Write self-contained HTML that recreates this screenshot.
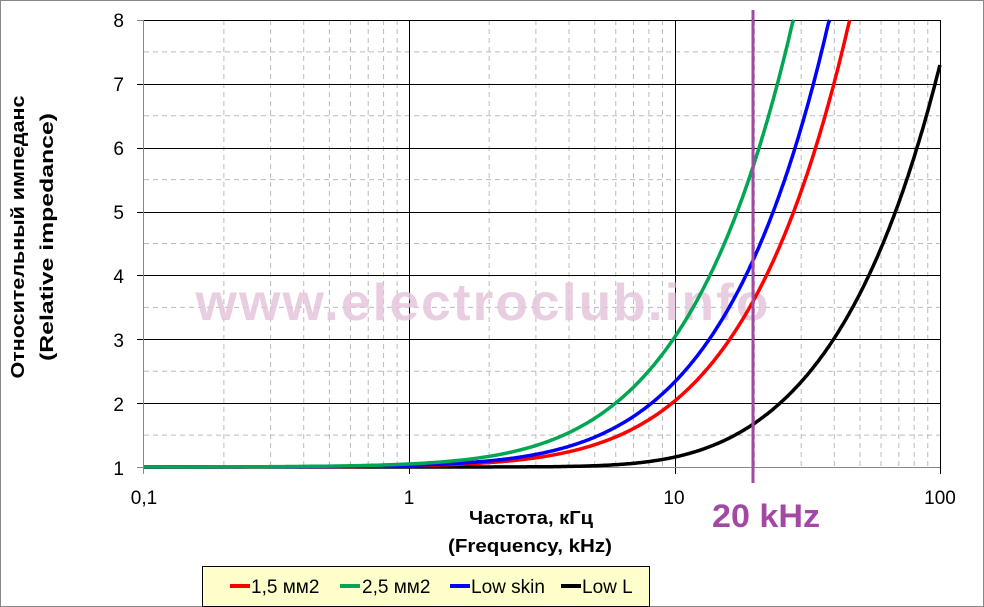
<!DOCTYPE html>
<html><head><meta charset="utf-8"><style>
body{margin:0;background:#fff}
svg{display:block}
text{font-family:"Liberation Sans","DejaVu Sans",sans-serif}
</style></head><body>
<svg id="s" width="984" height="607" viewBox="0 0 984 607" xmlns="http://www.w3.org/2000/svg">
<rect x="0.5" y="0.5" width="983" height="606" fill="#fff" stroke="#888"/>
<g id="grid"></g>
<text x="483" y="320" text-anchor="middle" font-size="52" font-weight="bold" fill="#e6c6dc" opacity="0.85" letter-spacing="2" textLength="575" lengthAdjust="spacingAndGlyphs">www.electroclub.info</text>
<g id="curves"></g>
<line x1="753" y1="10" x2="753" y2="483" stroke="#a349a4" stroke-width="3"/>
<text x="766" y="527" text-anchor="middle" font-size="32" font-weight="bold" fill="#a349a4" textLength="108" lengthAdjust="spacingAndGlyphs">20 kHz</text>
<g font-size="19" fill="#000" text-anchor="end">
<text x="124" y="27">8</text><text x="124" y="91">7</text><text x="124" y="155">6</text><text x="124" y="219">5</text><text x="124" y="283">4</text><text x="124" y="347">3</text><text x="124" y="411">2</text><text x="124" y="475">1</text>
</g>
<g font-size="19" fill="#000" text-anchor="middle">
<text x="144" y="504">0,1</text><text x="409" y="504">1</text><text x="674" y="504">10</text><text x="940" y="504">100</text>
</g>
<text x="531" y="524" text-anchor="middle" font-size="18" font-weight="bold" textLength="124" lengthAdjust="spacingAndGlyphs">Частота, кГц</text>
<text x="530" y="552" text-anchor="middle" font-size="18" font-weight="bold" textLength="164" lengthAdjust="spacingAndGlyphs">(Frequency, kHz)</text>
<g transform="translate(35,237) rotate(-90)" font-size="18" font-weight="bold" text-anchor="middle">
<text x="0" y="-11" textLength="283" lengthAdjust="spacingAndGlyphs">Относительный импеданс</text>
<text x="0" y="18" textLength="248" lengthAdjust="spacingAndGlyphs">(Relative impedance)</text>
</g>
<rect x="202.5" y="566.5" width="447" height="40" fill="#ffffcc" stroke="#000"/>
<g stroke-width="4">
<line x1="230" y1="586" x2="250" y2="586" stroke="#ff0000"/>
<line x1="340" y1="586" x2="360" y2="586" stroke="#00a651"/>
<line x1="450" y1="586" x2="470" y2="586" stroke="#0000ff"/>
<line x1="561" y1="586" x2="581" y2="586" stroke="#000"/>
</g>
<g font-size="19">
<text x="251" y="593">1,5 мм2</text><text x="362" y="593">2,5 мм2</text><text x="471" y="593">Low skin</text><text x="582" y="593">Low L</text>
</g>
</svg>
<script>
function X(f){return 144+265.3*Math.log10(f/0.1);}
function Y(v){return 467-63.86*(v-1);}
var g=document.getElementById('grid'),h='';
for(var d=0.1;d<100;d*=10){for(var k=2;k<10;k++){var x=X(d*k);h+='<line x1="'+x+'" y1="20" x2="'+x+'" y2="467" stroke="#bbb" stroke-dasharray="5,4"/>';}}
for(var v=1.5;v<8;v+=1){var y=Y(v);h+='<line x1="144" y1="'+y+'" x2="940" y2="'+y+'" stroke="#bbb" stroke-dasharray="5,4"/>';}
for(var v=2;v<=8;v++){var y=Math.round(Y(v))+0.5;h+='<line x1="137" y1="'+y+'" x2="940" y2="'+y+'" stroke="#000"/>';}
[1,10,100].forEach(function(f){var x=Math.round(X(f))+0.5;h+='<line x1="'+x+'" y1="20" x2="'+x+'" y2="474" stroke="#000"/>';});
h+='<line x1="143.5" y1="20" x2="143.5" y2="474" stroke="#888"/><line x1="137" y1="467.5" x2="940" y2="467.5" stroke="#888"/><line x1="137" y1="20.5" x2="144" y2="20.5" stroke="#888"/>';
g.innerHTML=h;
var S=[["#000000",13.8,4,100],["#ff0000",5.77,2.5,60],["#0000ff",4.83,2.5,60],["#00a651",3.54,2.3,60]];
var c='';
S.forEach(function(s){var a=s[1],n=s[2],pts=[];
for(var i=0;i<=600;i++){var f=0.1*Math.pow(10,3*i/600);if(f>s[3])break;
var r=f/a;var v=Math.sqrt(1+r*r)*(1+0.04*Math.pow(r,1.2)/(1+Math.pow(r,n)));
if(s[0]=="#000000"){var r2=r*r;v=Math.sqrt(1+r2*r2/(r2+0.3));}
var y=Y(v);if(y<20){pts.push([X(f),20]);break;}pts.push([X(f),y]);}
c+='<polyline points="'+pts.map(function(p){return p[0].toFixed(1)+','+p[1].toFixed(1);}).join(' ')+'" fill="none" stroke="'+s[0]+'" stroke-width="3.5" stroke-linejoin="round"/>';});
document.getElementById('curves').innerHTML=c;
</script>
</body></html>
